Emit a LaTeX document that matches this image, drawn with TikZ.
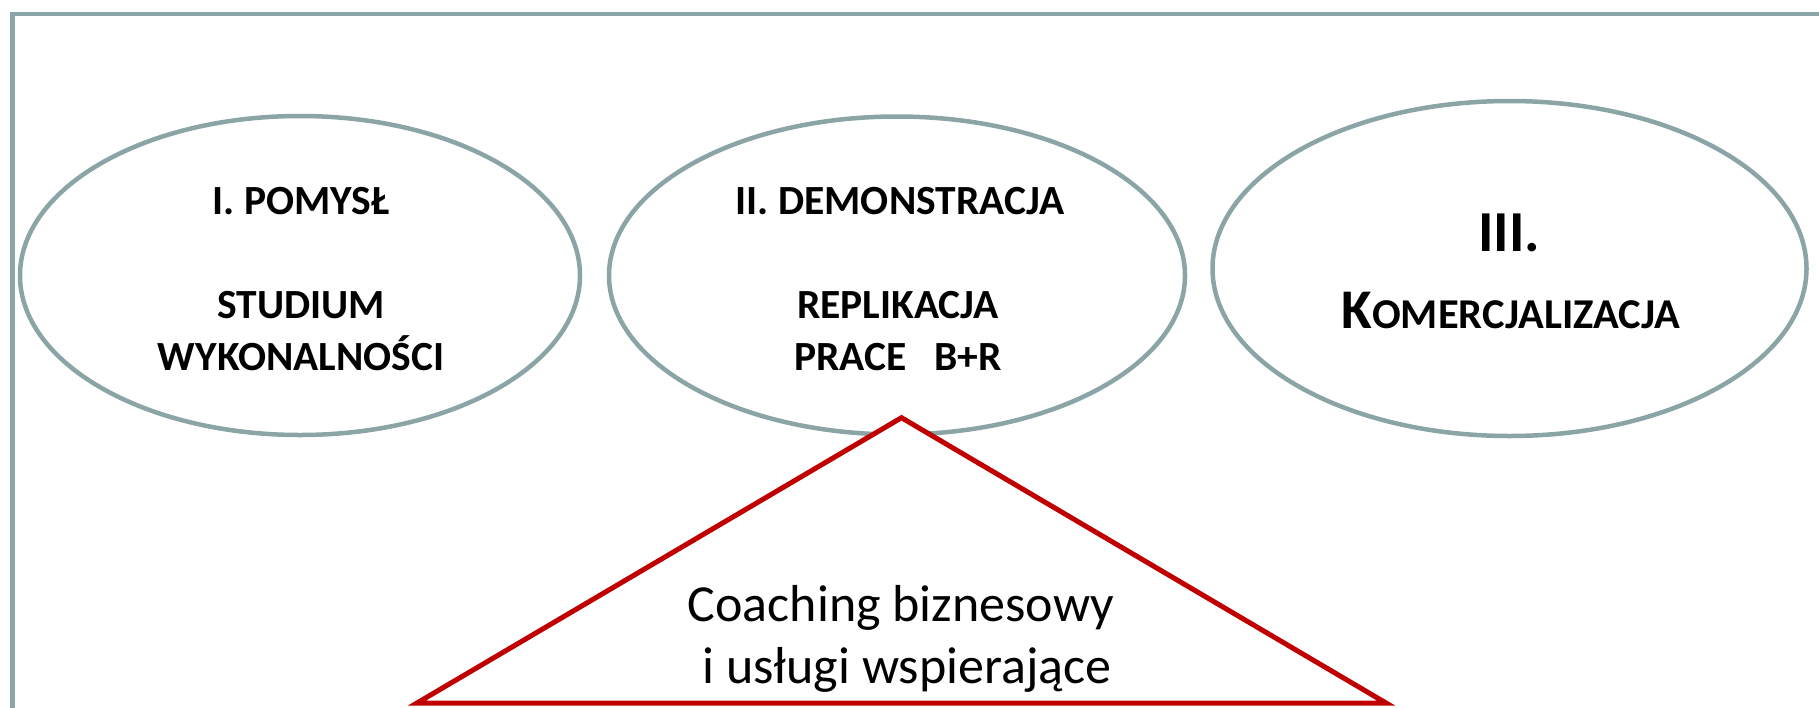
\documentclass[tikz,border=0pt]{standalone}
\usepackage{fontspec}
\setmainfont{Carlito}
\usetikzlibrary{shapes.geometric}
\definecolor{frameg}{RGB}{139,165,167}
\definecolor{redc}{RGB}{192,0,0}
\begin{document}
\begin{tikzpicture}[x=1pt,y=-1pt,
  oval/.style={draw=frameg, line width=4.5pt, ellipse, inner sep=0pt},
  boldtxt/.style={anchor=base, inner sep=0pt, font=\fontsize{41.5}{52}\selectfont\bfseries},
  regtxt/.style={anchor=base, inner sep=0pt, font=\fontsize{52}{63}\selectfont},
  tri/.style={draw=redc, line width=5pt, fill=white, line join=miter}]
\useasboundingbox (0,0) rectangle (1819,707);
\clip (0,0) rectangle (1819,707);
% frame
\coordinate (fb) at (12.7,780);
\coordinate (fc) at (12.7,14);
\coordinate (fr) at (1880,14);
\draw[frameg, line width=4.5pt] (fb) -- (fc) -- (fr);
% ellipses
\node[oval, minimum width=560pt, minimum height=319pt] (e1) at (300,275.5) {};
\node[oval, minimum width=576pt, minimum height=318pt] (e2) at (897,275.5) {};
\node[oval, minimum width=594pt, minimum height=335pt] (e3) at (1509.5,268.5) {};
% texts in ellipses
\node[boldtxt] (t1a) at (301,214) {I. POMYSŁ};
\node[boldtxt] (t1b) at (301,318) {STUDIUM};
\node[boldtxt] (t1c) at (301,370) {WYKONALNOŚCI};
\node[boldtxt] (t2a) at (900,214) {II. DEMONSTRACJA};
\node[boldtxt] (t2b) at (898,318) {REPLIKACJA};
\node[boldtxt] (t2c) at (898,370) {PRACE\ \ \ B+R};
\node[boldtxt, font=\fontsize{58}{64}\selectfont\bfseries] (t3a) at (1509,251) {III.};
\node[boldtxt] (t3b) at (1511,328) {{\fontsize{56}{60}\selectfont K}{\fontsize{42.5}{50}\selectfont OMERCJALIZACJA}};
% triangle
\coordinate (ta) at (901.5,417.7);
\coordinate (tl) at (417,703);
\coordinate (tr) at (1386,703);
\draw[tri] (ta) -- (tl) -- (tr) -- cycle;
\node[regtxt] (c1) at (901,621) {Coaching biznesowy};
\node[regtxt] (c2) at (907,683) {i usługi wspierające};
\end{tikzpicture}
\end{document}
